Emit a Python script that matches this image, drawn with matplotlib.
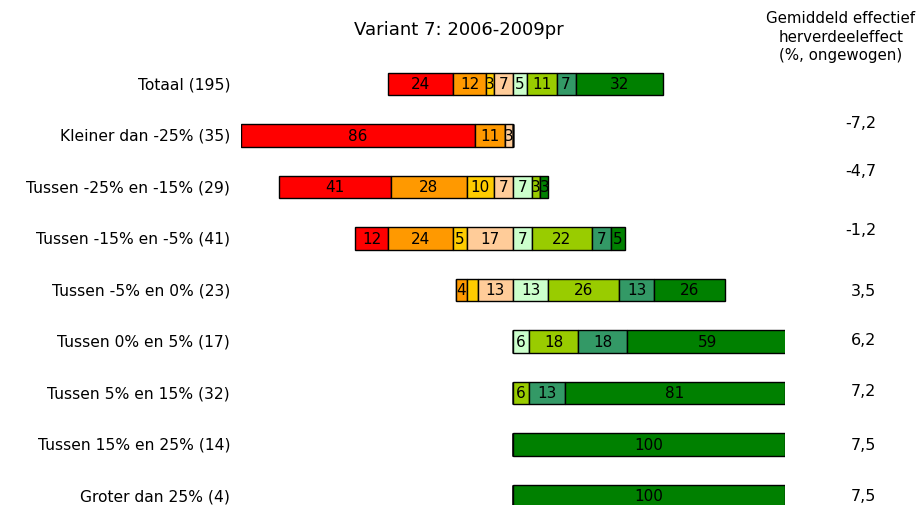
import matplotlib
matplotlib.use("Agg")
import matplotlib.pyplot as plt
import numpy as np

plt.rcParams['font.family'] = ['DejaVu Sans']

title = "Variant 7: 2006-2009pr"
header = "Gemiddeld effectief\nherverdeeleffect\n(%, ongewogen)"
categories = ["Totaal (195)", "Kleiner dan -25% (35)", "Tussen -25% en -15% (29)",
              "Tussen -15% en -5% (41)", "Tussen -5% en 0% (23)", "Tussen 0% en 5% (17)",
              "Tussen 5% en 15% (32)", "Tussen 15% en 25% (14)", "Groter dan 25% (4)"]
effect = [None, "-7,2", "-4,7", "-1,2", "3,5", "6,2", "7,2", "7,5", "7,5"]

# negative side
red       = [24, 86, 41, 12, 0, 0, 0, 0, 0]
orange    = [12, 11, 28, 24, 4, 0, 0, 0, 0]
yellow    = [3, 0, 10, 5, 4, 0, 0, 0, 0]
peach     = [7, 3, 7, 17, 13, 0, 0, 0, 0]
# positive side
palegreen = [5, 0, 7, 7, 13, 6, 0, 0, 0]
yellowgrn = [11, 0, 3, 22, 26, 18, 6, 0, 0]
seagreen  = [7, 0, 0, 7, 13, 18, 13, 0, 0]
darkgreen = [32, 0, 3, 5, 26, 59, 81, 100, 100]
hidden_labels = [(4, 2)]  # (row, series index) without a visible label

neg_series = [red, orange, yellow, peach]
pos_series = [palegreen, yellowgrn, seagreen, darkgreen]
neg_colors = ["#FF0000", "#FF9900", "#FFCC00", "#FFCC99"]
pos_colors = ["#CCFFCC", "#99CC00", "#339966", "#008000"]

fig = plt.figure(figsize=(9.22, 5.06), dpi=100)
ax = fig.add_axes([241/922, 0, 544/922, 1])
ax.set_xlim(-100, 100)
ax.set_ylim((506 - 85)/51.5, -85/51.5)
ax.axis('off')

y = np.arange(len(categories))
h = 0.43
fs_bar = 11
neg = np.array(neg_series, dtype=float)
left = -neg.sum(axis=0)
for si, (vals, col) in enumerate(zip(neg_series, neg_colors)):
    v = np.array(vals, dtype=float)
    ax.barh(y, v, left=left, height=h, color=col, edgecolor='black', linewidth=1)
    for r in range(len(y)):
        if v[r] > 0 and (r, si) not in hidden_labels:
            ax.text(left[r] + v[r]/2, y[r], f"{int(v[r])}", ha='center', va='center', fontsize=fs_bar)
    left = left + v
left = np.zeros(len(y))
for si, (vals, col) in enumerate(zip(pos_series, pos_colors)):
    v = np.array(vals, dtype=float)
    ax.barh(y, v, left=left, height=h, color=col, edgecolor='black', linewidth=1)
    for r in range(len(y)):
        if v[r] > 0 and (r, si + 4) not in hidden_labels:
            ax.text(left[r] + v[r]/2, y[r], f"{int(v[r])}", ha='center', va='center', fontsize=fs_bar)
    left = left + v

for r, lab in enumerate(categories):
    ax.text(-100 - 11/2.72, y[r], lab, ha='right', va='center', fontsize=11.2)

offsets = [0, -0.25, -0.33, -0.18, 0, -0.04, -0.05, 0, 0]
for r, e in enumerate(effect):
    if e is not None:
        fig.text(876/922, 1 - (85 + 51.5*(y[r] + offsets[r]))/506, e, ha='right', va='center', fontsize=11.5)

fig.text(459/922, 1 - 30/506, title, ha='center', va='center', fontsize=13)
fig.text(841/922, 1 - 37/506, header, ha='center', va='center', fontsize=10.8, linespacing=1.3)

fig.savefig("out.png", dpi=100)
